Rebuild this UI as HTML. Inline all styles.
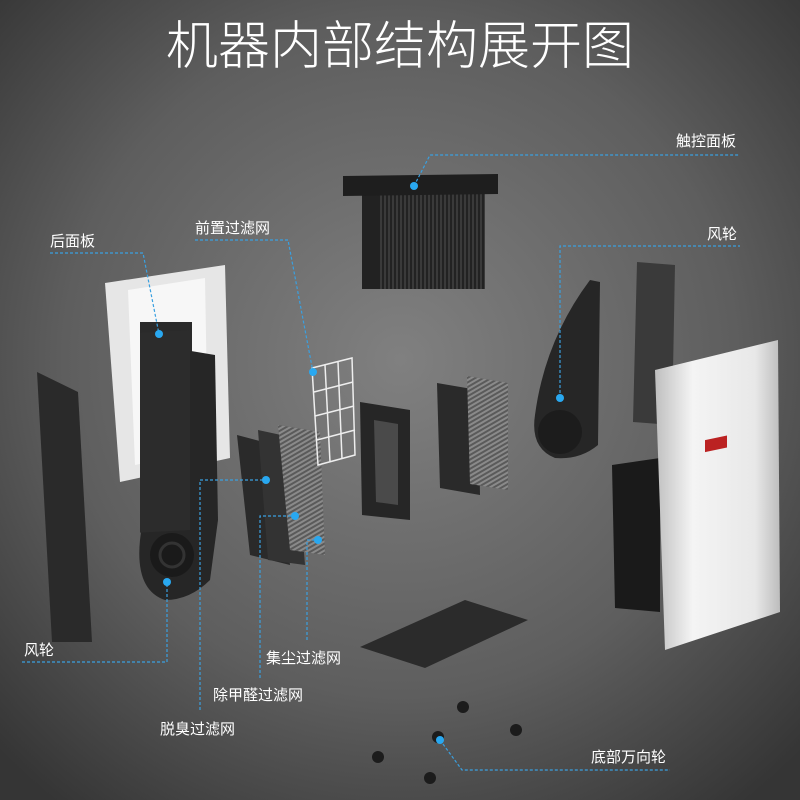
<!DOCTYPE html>
<html><head><meta charset="utf-8"><style>
html,body{margin:0;padding:0;width:800px;height:800px;overflow:hidden;background:#555}
svg{display:block}
text{font-family:"Liberation Sans","Noto Sans CJK SC",sans-serif;fill:#fff}
</style></head><body>
<svg width="800" height="800" viewBox="0 0 800 800" xmlns="http://www.w3.org/2000/svg">
<defs>
<radialGradient id="bg" cx="0.5" cy="0.45" r="0.7">
<stop offset="0" stop-color="#808080"/><stop offset="0.6" stop-color="#5e5e5e"/><stop offset="1" stop-color="#353535"/>
</radialGradient>
<linearGradient id="silver" x1="0" x2="1"><stop offset="0" stop-color="#bfbfbf"/><stop offset="0.3" stop-color="#f4f4f4"/><stop offset="0.8" stop-color="#e8e8e8"/><stop offset="1" stop-color="#bdbdbd"/></linearGradient>
<pattern id="grill" width="4" height="10" patternUnits="userSpaceOnUse"><rect width="4" height="10" fill="#222"/><rect width="2" height="10" fill="#3a3a3a"/></pattern>
<pattern id="stripe" width="4" height="4" patternUnits="userSpaceOnUse" patternTransform="rotate(60)"><rect width="4" height="4" fill="#8a8a8a"/><rect width="2" height="4" fill="#5a5a5a"/></pattern>
</defs>
<rect width="800" height="800" fill="url(#bg)"/>
<text x="400" y="64" font-size="52" font-weight="300" text-anchor="middle">机器内部结构展开图</text>

<rect x="362" y="194" width="123" height="95" fill="url(#grill)"/>
<rect x="362" y="194" width="16" height="95" fill="#222"/>
<polygon points="343,176 498,174 498,194 343,196" fill="#1e1e1e"/>

<polygon points="105,283 225,265 230,458 120,482" fill="#e6e6e6"/>
<polygon points="128,290 205,278 208,450 135,465" fill="#f7f7f7"/>
<rect x="140" y="322" width="52" height="30" fill="#2a2a2a"/>
<polygon points="37,372 78,392 92,642 52,642" fill="#2a2a2a"/>
<path d="M185,350 L215,355 L218,520 L210,580 Q190,600 165,600 Q135,590 140,540 L150,460 Q165,400 185,350 Z" fill="#262626"/>
<rect x="140" y="340" width="50" height="200" fill="#2c2c2c" transform="skewY(-3)"/>
<circle cx="172" cy="555" r="22" fill="#1a1a1a"/>
<circle cx="172" cy="555" r="12" fill="none" stroke="#333" stroke-width="3"/>
<polygon points="237,435 275,445 290,565 250,555" fill="#2a2a2a"/>
<polygon points="258,430 295,438 305,565 268,560" fill="#333"/>
<polygon points="278,425 320,432 325,555 290,550" fill="url(#stripe)"/>
<g stroke="#eee" stroke-width="1.5" fill="none">
<polygon points="312,368 352,358 355,455 318,465"/>
<line x1="325" y1="365" x2="330" y2="462"/><line x1="338" y1="362" x2="342" y2="459"/>
<line x1="314" y1="392" x2="353" y2="382"/><line x1="315" y1="416" x2="354" y2="406"/><line x1="317" y1="440" x2="355" y2="430"/>
</g>
<polygon points="360,402 410,410 410,520 362,515" fill="#262626"/>
<polygon points="374,420 398,424 398,505 376,502" fill="#4a4a4a"/>
<polygon points="437,383 478,390 480,495 440,488" fill="#2a2a2a"/>
<polygon points="467,376 508,383 508,490 470,484" fill="url(#stripe)"/>
<path d="M590,280 L600,282 L598,445 Q580,460 555,458 Q530,448 535,415 Q545,340 590,280 Z" fill="#262626"/>
<circle cx="560" cy="432" r="22" fill="#1c1c1c"/>
<polygon points="637,262 675,265 672,425 633,422" fill="#3a3a3a"/>
<polygon points="612,465 660,458 660,612 615,608" fill="#1a1a1a"/>
<polygon points="655,370 778,340 780,612 665,650" fill="url(#silver)"/>
<rect x="705" y="590" width="22" height="12" fill="#b22" transform="skewY(-12)"/>
<polygon points="360,647 465,600 528,620 425,668" fill="#2b2b2b"/>
<g fill="#1c1c1c"><circle cx="463" cy="707" r="6"/><circle cx="516" cy="730" r="6"/><circle cx="438" cy="737" r="6"/><circle cx="378" cy="757" r="6"/><circle cx="430" cy="778" r="6"/></g>

<g stroke="#3aa0e0" stroke-width="1.2" stroke-dasharray="3,2" fill="none">
<polyline points="414,186 430,155 740,155"/>
<polyline points="560,398 560,246 740,246"/>
<polyline points="50,253 143,253 159,334"/>
<polyline points="195,240 288,240 313,372"/>
<polyline points="22,662 167,662 167,582"/>
<polyline points="307,640 307,540 318,540"/>
<polyline points="260,678 260,516 295,516"/>
<polyline points="200,710 200,480 266,480"/>
<polyline points="440,740 462,770 670,770"/>
</g>
<g fill="#29a8f0">
<circle cx="414" cy="186" r="4"/><circle cx="560" cy="398" r="4"/><circle cx="159" cy="334" r="4"/><circle cx="313" cy="372" r="4"/>
<circle cx="167" cy="582" r="4"/><circle cx="318" cy="540" r="4"/><circle cx="295" cy="516" r="4"/><circle cx="266" cy="480" r="4"/><circle cx="440" cy="740" r="4"/>
</g>
<g font-size="15">
<text x="676" y="146">触控面板</text>
<text x="707" y="239">风轮</text>
<text x="50" y="246">后面板</text>
<text x="195" y="233">前置过滤网</text>
<text x="24" y="655">风轮</text>
<text x="266" y="663">集尘过滤网</text>
<text x="213" y="700">除甲醛过滤网</text>
<text x="160" y="734">脱臭过滤网</text>
<text x="591" y="762">底部万向轮</text>
</g>
</svg>
</body></html>
